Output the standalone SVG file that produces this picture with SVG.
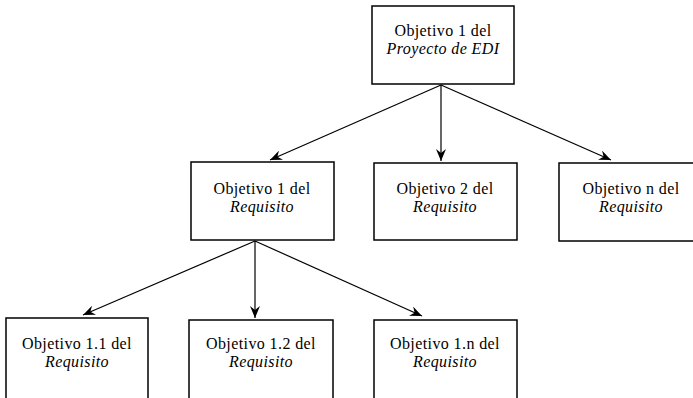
<svg xmlns="http://www.w3.org/2000/svg" width="693" height="398" viewBox="0 0 693 398">
<style>
.box{fill:#fff;stroke:#000;stroke-width:1.5}
.t{font-family:"Liberation Serif","Times New Roman",serif;font-size:16px;letter-spacing:0.4px;fill:#000;text-anchor:middle}
.i{font-style:italic}
.c{stroke:#000;stroke-width:1.2;fill:none;marker-end:url(#ah)}
</style>
<defs>
<marker id="ah" viewBox="0 0 12 10" refX="12" refY="5" markerWidth="12" markerHeight="10" markerUnits="userSpaceOnUse" orient="auto">
<path d="M0,0 L12,5 L0,10 L4,5 z" fill="#000"/>
</marker>
</defs>
<rect width="693" height="398" fill="#fff"/>
<g id="connectors">
<line class="c" x1="441" y1="85" x2="270" y2="160"/>
<line class="c" x1="441" y1="85" x2="441" y2="161"/>
<line class="c" x1="441" y1="85" x2="611" y2="160"/>
<line class="c" x1="255" y1="241" x2="83" y2="315"/>
<line class="c" x1="255" y1="241" x2="255" y2="318"/>
<line class="c" x1="255" y1="241" x2="422" y2="316"/>
</g>
<g id="n0">
<rect class="box" x="372" y="6" width="142" height="78"/>
<text class="t" x="443" y="36">Objetivo 1 del</text>
<text class="t i" x="443" y="54">Proyecto de EDI</text>
</g>
<g id="n1">
<rect class="box" x="191" y="162" width="143" height="78"/>
<text class="t" x="262" y="194">Objetivo 1 del</text>
<text class="t i" x="262" y="212">Requisito</text>
</g>
<g id="n2">
<rect class="box" x="374" y="163" width="143" height="77"/>
<text class="t" x="445" y="194">Objetivo 2 del</text>
<text class="t i" x="445" y="212">Requisito</text>
</g>
<g id="n3">
<rect class="box" x="559" y="163" width="145" height="78"/>
<text class="t" x="631" y="194">Objetivo n del</text>
<text class="t i" x="631" y="212">Requisito</text>
</g>
<g id="n4">
<rect class="box" x="6" y="318" width="142" height="95"/>
<text class="t" x="77" y="349">Objetivo 1.1 del</text>
<text class="t i" x="77" y="367">Requisito</text>
</g>
<g id="n5">
<rect class="box" x="189" y="320" width="144" height="95"/>
<text class="t" x="261" y="349">Objetivo 1.2 del</text>
<text class="t i" x="261" y="367">Requisito</text>
</g>
<g id="n6">
<rect class="box" x="374" y="320" width="143" height="95"/>
<text class="t" x="445" y="349">Objetivo 1.n del</text>
<text class="t i" x="445" y="367">Requisito</text>
</g>
</svg>
